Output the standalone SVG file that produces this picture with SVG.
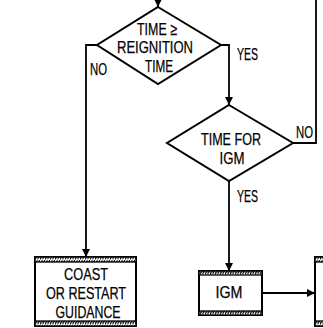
<svg xmlns="http://www.w3.org/2000/svg" width="323" height="328" viewBox="0 0 323 328">
<style>
.ln{fill:none;stroke:#000;stroke-width:1.8}
.dia{fill:#fff;stroke:#000;stroke-width:2}
.box{fill:#fff;stroke:#000;stroke-width:2}
.band{fill:url(#hatch);stroke:#000;stroke-width:1.3}
text{font-family:"Liberation Sans",Arial,sans-serif;font-size:17px;fill:#000;stroke:#000;stroke-width:0.25}
.c{text-anchor:middle}
</style>
<defs>
<pattern id="hatch" patternUnits="userSpaceOnUse" width="2.5" height="5">
<rect width="2.5" height="5" fill="#fff"/>
<path d="M-1,5.5 L3,-0.5" stroke="#000" stroke-width="1.3"/>
</pattern>
<marker id="arr" markerUnits="userSpaceOnUse" markerWidth="8" markerHeight="10" refX="8" refY="4" orient="auto">
<path d="M0,0 L8,4 L0,8 Z" fill="#000"/>
</marker>
</defs>
<rect width="323" height="328" fill="#fff"/>
<g id="connectors">
<path class="ln" d="M158,0 V7" marker-end="url(#arr)"/>
<path class="ln" d="M97,45 H86 V257" marker-end="url(#arr)"/>
<path class="ln" d="M221,45 H229 V105" marker-end="url(#arr)"/>
<path class="ln" d="M293,143 H316 V0"/>
<path class="ln" d="M229,181 V271" marker-end="url(#arr)"/>
<path class="ln" d="M262,293 H315" marker-end="url(#arr)"/>
<text x="98.5" y="75" class="c" textLength="17" lengthAdjust="spacingAndGlyphs">NO</text>
<text x="237" y="60" textLength="21" lengthAdjust="spacingAndGlyphs">YES</text>
<text x="296" y="138" textLength="17" lengthAdjust="spacingAndGlyphs">NO</text>
<text x="237" y="202" textLength="21" lengthAdjust="spacingAndGlyphs">YES</text>
</g>
<g id="decision-reignition">
<polygon class="dia" points="158,7 221,45 158,84 97,45"/>
<text x="157" y="35" class="c" textLength="40" lengthAdjust="spacingAndGlyphs">TIME ≥</text>
<text x="155" y="53" class="c" textLength="76" lengthAdjust="spacingAndGlyphs">REIGNITION</text>
<text x="159" y="72" class="c" textLength="28" lengthAdjust="spacingAndGlyphs">TIME</text>
</g>
<g id="decision-igm">
<polygon class="dia" points="229,105 293,143 229,181 167,143"/>
<text x="231" y="145" class="c" textLength="60" lengthAdjust="spacingAndGlyphs">TIME FOR</text>
<text x="232" y="164" class="c" textLength="25" lengthAdjust="spacingAndGlyphs">IGM</text>
</g>
<g id="coast">
<rect class="box" x="35" y="257" width="101" height="69"/>
<rect class="band" x="35" y="257" width="101" height="5"/>
<rect class="band" x="35" y="321" width="101" height="5"/>
<text x="86" y="280" class="c" textLength="44" lengthAdjust="spacingAndGlyphs">COAST</text>
<text x="86" y="299" class="c" textLength="80" lengthAdjust="spacingAndGlyphs">OR RESTART</text>
<text x="88" y="318" class="c" textLength="65" lengthAdjust="spacingAndGlyphs">GUIDANCE</text>
</g>
<g id="igm">
<rect class="box" x="199" y="271" width="63" height="44"/>
<rect class="band" x="199" y="271" width="63" height="4"/>
<rect class="band" x="199" y="311" width="63" height="4"/>
<text x="229" y="298" class="c" textLength="27" lengthAdjust="spacingAndGlyphs">IGM</text>
</g>
<g id="next">
<rect class="box" x="315" y="257" width="40" height="69"/>
<rect class="band" x="315" y="257" width="40" height="5"/>
<rect class="band" x="315" y="321" width="40" height="5"/>
</g>
</svg>
